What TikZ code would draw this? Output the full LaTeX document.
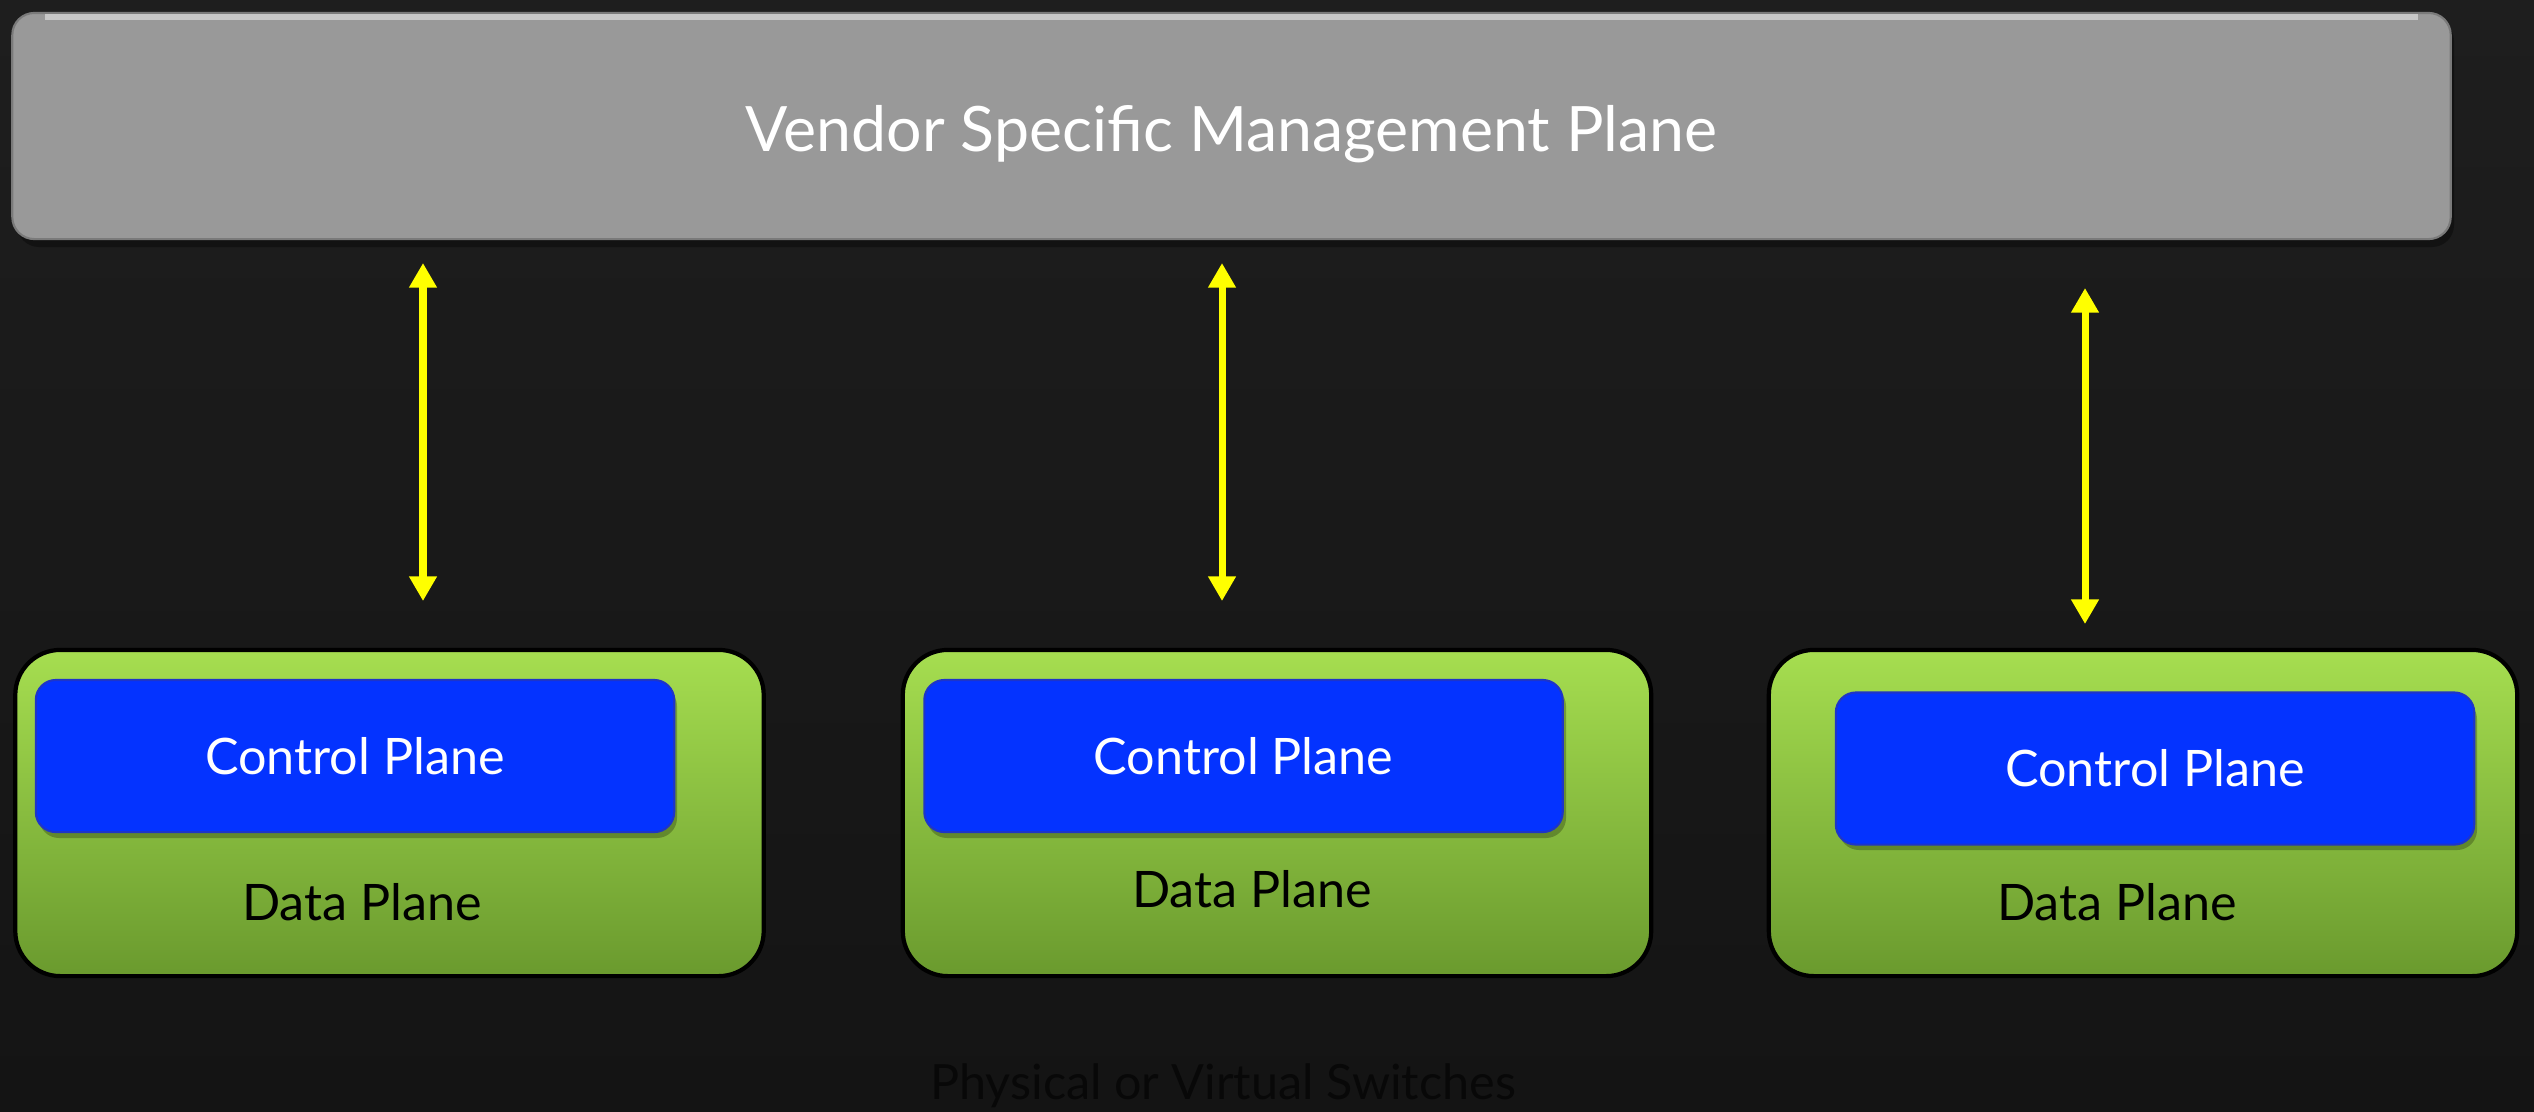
\documentclass[tikz,border=0pt]{standalone}
\usepackage{fontspec}
\setmainfont{Lato}
\usetikzlibrary{arrows.meta}
\definecolor{bgtop}{HTML}{1E1E1E}
\definecolor{bgbot}{HTML}{141414}
\definecolor{mgmtgray}{HTML}{999999}
\definecolor{greentop}{HTML}{A6DE50}
\definecolor{greenbot}{HTML}{6A9A2E}
\definecolor{ctrlblue}{HTML}{0433FF}
\definecolor{ctrledge}{HTML}{1E35C8}
\definecolor{arrowyellow}{HTML}{FFFF00}
\definecolor{footgray}{HTML}{080808}
\tikzset{
  mgmtbox/.style={draw=mgmtgray!80!black, line width=0.6pt, fill=mgmtgray, rounded corners=0.22cm,
    minimum width=24.37cm, minimum height=2.26cm, text=white, font=\fontsize{17.8}{21}\selectfont, inner sep=0pt},
  switchbox/.style={draw=black, line width=1.2pt, top color=greentop, bottom color=greenbot,
    rounded corners=0.45cm, minimum width=7.48cm, minimum height=3.26cm, inner sep=0pt},
  ctrlbox/.style={draw=ctrledge, line width=0.6pt, fill=ctrlblue, rounded corners=0.2cm,
    minimum width=6.38cm, minimum height=1.52cm, text=white, font=\fontsize{14.3}{17}\selectfont, inner sep=0pt},
  datalabel/.style={text=black, font=\fontsize{14.3}{17}\selectfont, inner sep=0pt},
  link/.style={draw=arrowyellow, line width=2pt, {Triangle[width=7.5pt,length=7pt]}-{Triangle[width=7.5pt,length=7pt]}},
  footlabel/.style={text=footgray, font=\fontsize{13.8}{16}\selectfont, inner sep=0pt}
}
\begin{document}
\begin{tikzpicture}[x=0.01cm,y=-0.01cm]
\useasboundingbox (0,0) rectangle (2534,1111);
\shade[top color=bgtop, bottom color=bgbot] (0,0) rectangle (2534,1111);
% management plane
\fill[black, opacity=0.35, rounded corners=0.22cm] (17,19) rectangle (2454,247);
\node[mgmtbox, text depth=0pt] (mgmt) at (1231.5,126) {};
\node[text=white, font=\fontsize{17.8}{21}\selectfont, inner sep=0pt] (mgmtlabel) at (1231.5,134) {Vendor Specific Management Plane};
\draw[white!45!mgmtgray, line width=1.5pt] (45,17) -- (2418,17);
% switches
\node[switchbox] (sw1) at (389.5,813) {};
\node[switchbox] (sw2) at (1277,813) {};
\node[switchbox] (sw3) at (2143,813) {};
\fill[black, opacity=0.25, rounded corners=0.2cm] (39,686) rectangle (677,838);
\fill[black, opacity=0.25, rounded corners=0.2cm] (927,686) rectangle (1566,838);
\fill[black, opacity=0.25, rounded corners=0.2cm] (1839,699) rectangle (2477,850);
\node[ctrlbox] (cp1) at (355,756) {Control Plane};
\node[ctrlbox] (cp2) at (1243.5,756) {Control Plane};
\node[ctrlbox] (cp3) at (2155,768.5) {Control Plane};
\node[datalabel] (dp1) at (362,902) {Data Plane};
\node[datalabel] (dp2) at (1252,889) {Data Plane};
\node[datalabel] (dp3) at (2117,902) {Data Plane};
% arrow ends
\coordinate (a1t) at (423,263);
\coordinate (a1b) at (423,601);
\coordinate (a2t) at (1222,263);
\coordinate (a2b) at (1222,601);
\coordinate (a3t) at (2085,288);
\coordinate (a3b) at (2085,624);
\draw[link] (a1t) -- (a1b);
\draw[link] (a2t) -- (a2b);
\draw[link] (a3t) -- (a3b);
\node[footlabel] (foot) at (1223,1086) {Physical or Virtual Switches};
\end{tikzpicture}
\end{document}
